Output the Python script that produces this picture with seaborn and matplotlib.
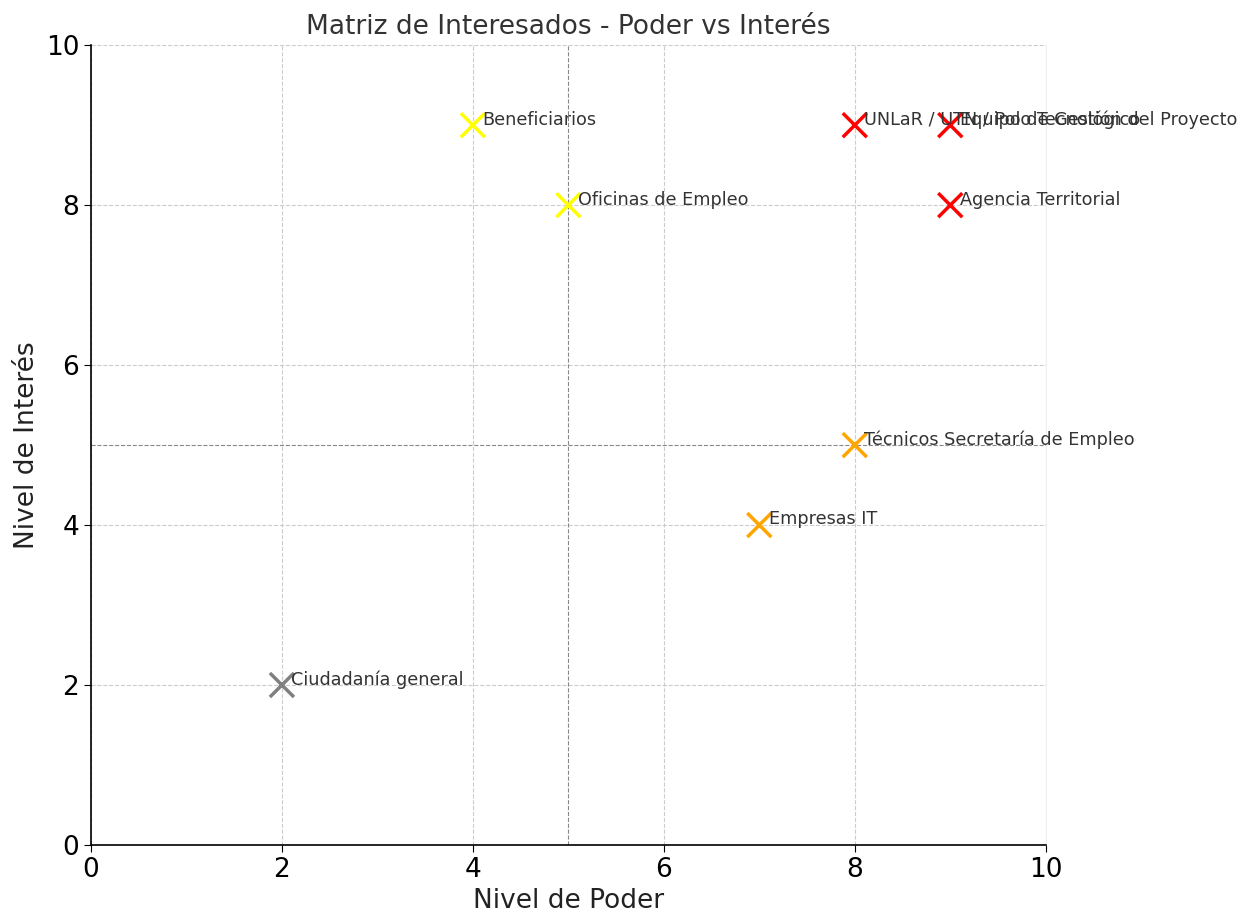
import matplotlib
matplotlib.use("Agg")
import matplotlib.pyplot as plt
import pandas as pd
import seaborn as sns

# stakeholders
names = ['Beneficiarios', 'Oficinas de Empleo', 'UNLaR / UTN / Polo Tecnológico',
         'Equipo de Gestión del Proyecto', 'Agencia Territorial',
         'Técnicos Secretaría de Empleo', 'Empresas IT', 'Ciudadanía general']
poder = [4, 5, 8, 9, 9, 8, 7, 2]
interes = [9, 8, 9, 9, 8, 5, 4, 2]
grupo = ['yellow', 'yellow', 'red', 'red', 'red', 'orange', 'orange', 'gray']

df = pd.DataFrame({'Poder': poder, 'Interes': interes, 'Nombre': names, 'Grupo': grupo})

sns.set_style('whitegrid', {'grid.linestyle': '--', 'grid.color': '#cccccc',
                            'axes.edgecolor': 'black', 'xtick.bottom': True, 'ytick.left': True})
plt.rcParams['font.family'] = ['DejaVu Sans']

fig = plt.figure(figsize=(12.53, 9.13), dpi=100)
ax = fig.add_axes([0.0726, 0.0745, 0.762, 0.876])

palette = {'yellow': 'yellow', 'red': 'red', 'orange': 'orange', 'gray': 'gray'}
sns.scatterplot(data=df, x='Poder', y='Interes', hue='Grupo', palette=palette,
                marker='x', s=300, linewidth=2.5, legend=False, ax=ax, zorder=3)

for _, r in df.iterrows():
    ax.text(r['Poder'] + 0.1, r['Interes'] + 0.07, r['Nombre'], fontsize=12.7,
            color='#333333', va='center', ha='left')

ax.axhline(5, color='#888888', linestyle='--', linewidth=0.8)
ax.axvline(5, color='#888888', linestyle='--', linewidth=0.8)

ax.set_xlim(0, 10)
ax.set_ylim(0, 10)
ax.set_xticks([0, 2, 4, 6, 8, 10])
ax.set_yticks([0, 2, 4, 6, 8, 10])
ax.tick_params(labelsize=19, colors='black', length=5)
ax.set_xlabel('Nivel de Poder', fontsize=19, color='#222222')
ax.set_ylabel('Nivel de Interés', fontsize=19, color='#222222')
ax.set_title('Matriz de Interesados - Poder vs Interés', fontsize=19, color='#333333', pad=8)
ax.spines['top'].set_visible(False)
ax.spines['right'].set_color('#f0f0f0')
ax.spines['left'].set_linewidth(1.2)
ax.spines['bottom'].set_linewidth(1.2)
ax.spines['right'].set_linewidth(0.8)

fig.savefig('out.png', dpi=100)
